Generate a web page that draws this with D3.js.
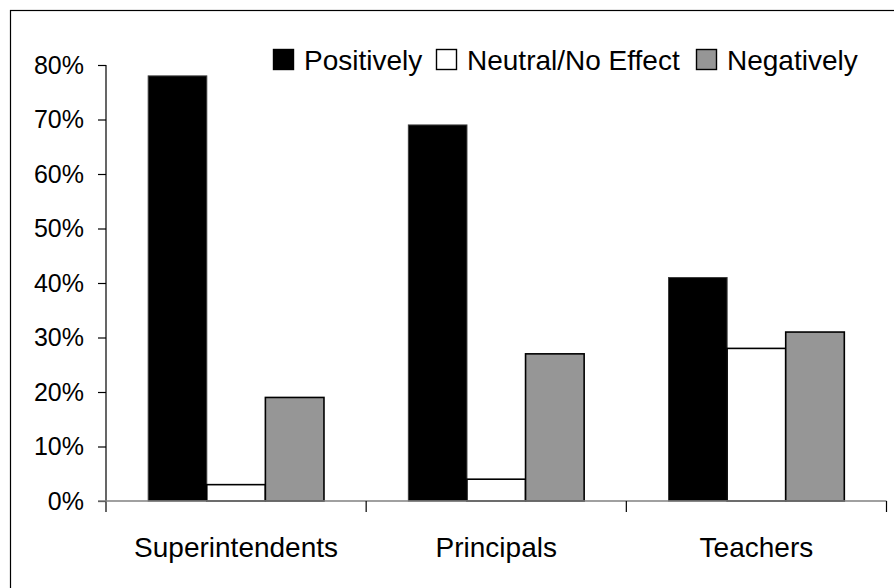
<!DOCTYPE html>
<html>
<head>
<meta charset="utf-8">
<script src="https://cdn.jsdelivr.net/npm/d3@7"></script>
<style>
  body { margin: 0; background: #fff; }
  svg { display: block; font-family: "Liberation Sans", Arial, sans-serif; }
</style>
</head>
<body>
<svg></svg>
<script>
let categories = ['Superintendents', 'Principals', 'Teachers']
let seriesNames = ['Positively', 'Neutral/No Effect', 'Negatively']
let positively = [0.78, 0.69, 0.41]
let neutral = [0.03, 0.04, 0.28]
let negatively = [0.19, 0.27, 0.31]
let yTicks = [0, 0.1, 0.2, 0.3, 0.4, 0.5, 0.6, 0.7, 0.8]

let fills = ['#000000', '#ffffff', '#969696']
let strokes = ['#3a3a3a', '#000000', '#000000']

let width = 894
let height = 588

let svg = d3.select('svg')
  .attr('width', width)
  .attr('height', height)

// frame around the chart area (runs off the right and bottom edge)
svg.append('rect')
  .attr('x', 10.5)
  .attr('y', 10.5)
  .attr('width', width + 20)
  .attr('height', height + 20)
  .attr('fill', 'none')
  .attr('stroke', '#000')
  .attr('stroke-width', 1.2)

let xScale = d3.scaleBand()
  .domain(categories)
  .range([106, 886.5])
  .padding(0)

let innerScale = d3.scaleBand()
  .domain(seriesNames)
  .range([0, xScale.bandwidth()])
  .paddingInner(0)
  .paddingOuter(0.72)

let yScale = d3.scaleLinear()
  .domain([0, 0.8])
  .range([501, 65])

let allSeries = [positively, neutral, negatively]

// bars
allSeries.forEach((values, s) => {
  svg.append('g')
    .selectAll('rect')
    .data(values)
    .enter()
    .append('rect')
    .attr('x', (d, i) => xScale(categories[i]) + innerScale(seriesNames[s]))
    .attr('y', (d) => yScale(d))
    .attr('width', innerScale.bandwidth())
    .attr('height', (d) => yScale(0) - yScale(d))
    .attr('fill', fills[s])
    .attr('stroke', strokes[s])
    .attr('stroke-width', s === 0 ? 1 : 1.6)
})

// y axis
let yAxis = d3.axisLeft(yScale)
  .tickValues(yTicks)
  .tickFormat(d3.format('.0%'))
  .tickSize(8)
  .tickPadding(14)

let yG = svg.append('g')
  .attr('transform', 'translate(106, 0)')
  .call(yAxis)
yG.select('.domain').remove()
yG.append('line')
  .attr('x1', 0).attr('x2', 0)
  .attr('y1', yScale(0.8)).attr('y2', 512)
  .attr('stroke', '#000')
  .attr('stroke-width', 1.2)
yG.selectAll('.tick line').attr('stroke', '#000').attr('stroke-width', 1.2)
yG.selectAll('.tick text')
  .attr('font-size', 25)
  .attr('fill', '#000')
  .attr('font-family', '"Liberation Sans", Arial, sans-serif')

// x axis
let xG = svg.append('g')
  .attr('transform', 'translate(0, ' + yScale(0) + ')')
xG.append('line')
  .attr('x1', 98).attr('x2', 886.5)
  .attr('y1', 0).attr('y2', 0)
  .attr('stroke', '#808080')
  .attr('stroke-width', 1.5)

let boundaries = categories.map((c) => xScale(c)).concat([xScale.range()[1]])
xG.selectAll('.xtick')
  .data(boundaries.slice(1))
  .enter()
  .append('line')
  .attr('x1', (d) => d).attr('x2', (d) => d)
  .attr('y1', 0).attr('y2', 11)
  .attr('stroke', '#000')
  .attr('stroke-width', 1.2)

xG.selectAll('.xlabel')
  .data(categories)
  .enter()
  .append('text')
  .attr('x', (d) => xScale(d) + xScale.bandwidth() / 2)
  .attr('y', 56)
  .attr('text-anchor', 'middle')
  .attr('font-size', 28)
  .attr('fill', '#000')
  .text((d) => d)

// legend
let legendX = [273, 436, 696]
let legend = svg.append('g')
seriesNames.forEach((name, s) => {
  legend.append('rect')
    .attr('x', legendX[s] + 0.5)
    .attr('y', 49.5)
    .attr('width', 20)
    .attr('height', 20)
    .attr('fill', fills[s])
    .attr('stroke', '#000')
    .attr('stroke-width', 1.4)
  legend.append('text')
    .attr('x', legendX[s] + 31)
    .attr('y', 70)
    .attr('font-size', 28)
    .attr('fill', '#000')
    .text(name)
})
</script>
</body>
</html>
